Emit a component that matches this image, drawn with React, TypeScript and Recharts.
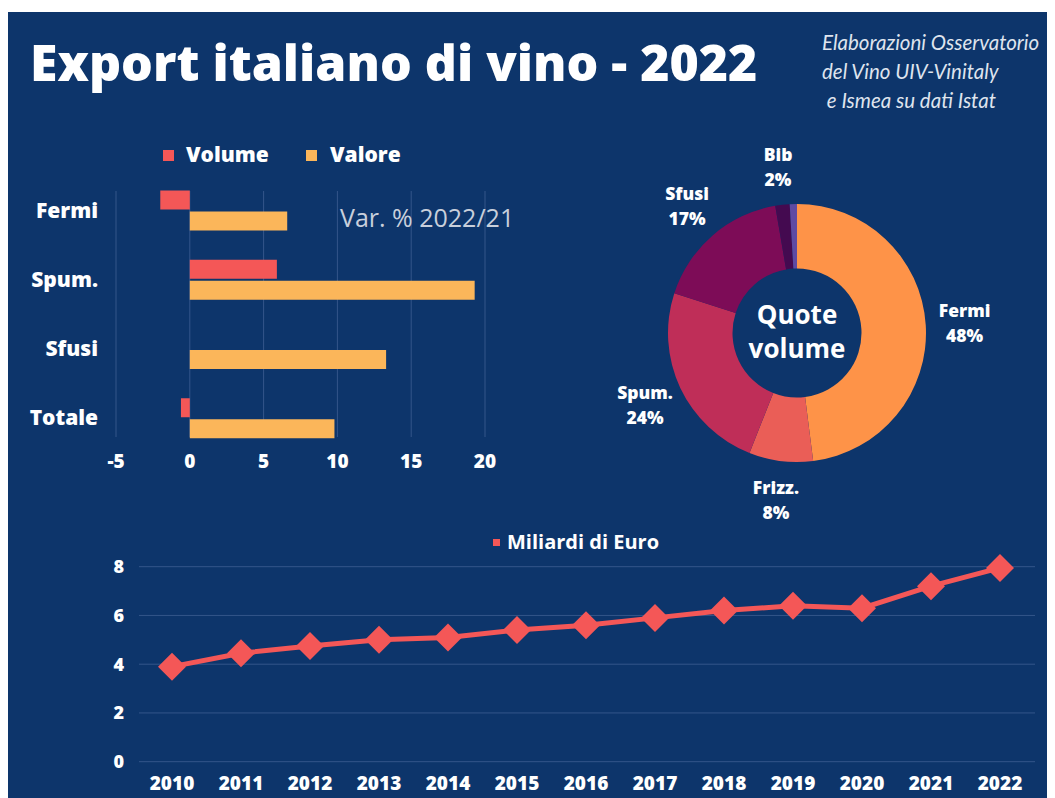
import React from 'react';
import {
  BarChart,
  Bar,
  XAxis,
  YAxis,
  CartesianGrid,
  PieChart,
  Pie,
  Cell,
  LineChart,
  Line,
} from 'recharts';

// --- data ---
const barCategories = ['Fermi', 'Spum.', 'Sfusi', 'Totale'];
const volumeVar = [-2.0, 5.9, 0, -0.6];
const valoreVar = [6.6, 19.3, 13.3, 9.8];
const barTicks = [-5, 0, 5, 10, 15, 20];

const pieNames = ['Fermi', 'Frizz.', 'Spum.', 'Sfusi', 'Bib', 'Altri'];
const pieValues = [48, 8, 24, 17.3, 1.8, 0.9];
const pieColors = ['#fe9348', '#ea5e57', '#bf2e58', '#7d0c57', '#440a50', '#5e4aa3'];

const years = ['2010', '2011', '2012', '2013', '2014', '2015', '2016', '2017', '2018', '2019', '2020', '2021', '2022'];
const exportValues = [3.9, 4.45, 4.75, 5.0, 5.1, 5.4, 5.6, 5.9, 6.2, 6.4, 6.3, 7.2, 7.95];
const lineTicks = [0, 2, 4, 6, 8];

const NAVY = '#0d356b';
const GRID = '#34568a';
const RED = '#f45757';
const ORANGE = '#fbb65a';
const FONT = '"Open Sans", sans-serif';

const barData = barCategories.map((name, i) => ({ name, volume: volumeVar[i], valore: valoreVar[i] }));
const pieData = pieNames.map((name, i) => ({ name, value: pieValues[i] }));
const lineData = years.map((year, i) => ({ year, value: exportValues[i] }));

const RAD = Math.PI / 180;

const PieLabel = (props: any) => {
  const { cx, cy, midAngle, percent, name } = props;
  if (percent < 0.015) return null;
  const r = 168;
  const x = cx + r * Math.cos(-midAngle * RAD);
  const y = cy + r * Math.sin(-midAngle * RAD);
  return (
    <text x={x} y={y} textAnchor="middle" fill="#fff" fontFamily={FONT} fontWeight={800} fontSize={17.5}>
      <tspan x={x} y={y - 12.5} dominantBaseline="central">{name}</tspan>
      <tspan x={x} y={y + 12.5} dominantBaseline="central">{`${Math.round(percent * 100)}%`}</tspan>
    </text>
  );
};

const Diamond = (props: any) => {
  const { cx, cy } = props;
  if (cx == null || cy == null) return null;
  const s = 14;
  return <polygon points={`${cx},${cy - s} ${cx + s},${cy} ${cx},${cy + s} ${cx - s},${cy}`} fill={RED} />;
};

const abs = (left: number, top: number): React.CSSProperties => ({ position: 'absolute', left, top });

export default function App() {
  return (
    <div style={{ paddingTop: 4 }}>
      <style>{'html,body{overflow:hidden}'}</style>
      <div style={{ position: 'relative', width: 1047, height: 786, background: NAVY, fontFamily: FONT, overflow: 'hidden' }}>
        {/* title */}
        <div style={{ ...abs(22, 25), color: '#fff', fontSize: 50, lineHeight: '50px', fontWeight: 800, whiteSpace: 'nowrap' }}>
          Export italiano di vino - 2022
        </div>
        <div
          style={{
            ...abs(814, 16),
            color: '#dfe4ee',
            fontFamily: 'Lato, sans-serif',
            fontStyle: 'italic',
            fontSize: 20.5,
            lineHeight: '29px',
            whiteSpace: 'pre',
          }}
        >
          {'Elaborazioni Osservatorio\ndel Vino UIV-Vinitaly\n e Ismea su dati Istat'}
        </div>

        {/* bar chart legend */}
        <div style={{ ...abs(155, 138), width: 11, height: 11, background: RED }} />
        <div style={{ ...abs(178, 143 - 11), color: '#fff', fontSize: 21, lineHeight: '21px', fontWeight: 800 }}>Volume</div>
        <div style={{ ...abs(298, 138), width: 11, height: 11, background: ORANGE }} />
        <div style={{ ...abs(322, 143 - 11), color: '#fff', fontSize: 21, lineHeight: '21px', fontWeight: 800 }}>Valore</div>

        <div style={abs(0, 0)}>
          <BarChart
            width={500}
            height={470}
            layout="vertical"
            data={barData}
            margin={{ top: 179, right: 23, bottom: 15, left: 0 }}
            barSize={19}
            barGap={2}
          >
            <CartesianGrid horizontal={false} stroke={GRID} />
            <XAxis
              type="number"
              domain={[-5, 20]}
              ticks={barTicks}
              height={30}
              axisLine={false}
              tickLine={false}
              tickSize={0}
              tickMargin={18}
              tick={{ fill: '#fff', fontSize: 19, fontWeight: 800, fontFamily: FONT }}
            />
            <YAxis
              type="category"
              dataKey="name"
              width={108}
              axisLine={false}
              tickLine={false}
              tickSize={0}
              tickMargin={18}
              padding={{ top: -15.5, bottom: -15.5 }}
              tick={{ fill: '#fff', fontSize: 21, fontWeight: 800, fontFamily: FONT }}
            />
            <Bar dataKey="volume" name="Volume" fill={RED} isAnimationActive={false} />
            <Bar dataKey="valore" name="Valore" fill={ORANGE} isAnimationActive={false} />
          </BarChart>
        </div>

        <div style={{ ...abs(332, 206 - 13), color: '#c8cfdb', fontSize: 25, lineHeight: '25px', fontWeight: 400, whiteSpace: 'nowrap' }}>
          Var. % 2022/21
        </div>

        {/* pie */}
        <div style={abs(569, 101)}>
          <PieChart width={440} height={440} margin={{ top: 0, right: 0, bottom: 0, left: 0 }}>
            <Pie
              data={pieData}
              dataKey="value"
              nameKey="name"
              cx={220}
              cy={220}
              innerRadius={64.5}
              outerRadius={129}
              startAngle={90}
              endAngle={-270}
              stroke="none"
              label={PieLabel}
              labelLine={false}
              isAnimationActive={false}
            >
              {pieData.map((d, i) => (
                <Cell key={d.name} fill={pieColors[i]} />
              ))}
            </Pie>
          </PieChart>
        </div>
        <div
          style={{
            ...abs(689, 285),
            width: 200,
            textAlign: 'center',
            color: '#fff',
            fontSize: 26,
            lineHeight: '34px',
            fontWeight: 700,
          }}
        >
          Quote
          <br />
          volume
        </div>

        {/* line chart legend */}
        <div style={{ ...abs(485, 527), width: 7, height: 7, background: RED }} />
        <div style={{ ...abs(499, 531 - 11), color: '#fff', fontSize: 20, lineHeight: '20px', fontWeight: 700, whiteSpace: 'nowrap' }}>
          Miliardi di Euro
        </div>

        <div style={abs(0, 500)}>
          <LineChart width={1047} height={286} data={lineData} margin={{ top: 54.7, right: 20, bottom: 6.3, left: 0 }}>
            <CartesianGrid vertical={false} stroke={GRID} />
            <XAxis
              dataKey="year"
              height={30}
              padding={{ left: 33, right: 35 }}
              axisLine={false}
              tickLine={false}
              tickSize={0}
              tickMargin={14.5}
              interval={0}
              tick={{ fill: '#fff', fontSize: 19, fontWeight: 800, fontFamily: FONT }}
            />
            <YAxis
              domain={[0, 8]}
              ticks={lineTicks}
              width={131}
              axisLine={false}
              tickLine={false}
              tickSize={0}
              tickMargin={15}
              tick={{ fill: '#fff', fontSize: 18, fontWeight: 800, fontFamily: FONT }}
            />
            <Line
              dataKey="value"
              name="Miliardi di Euro"
              stroke={RED}
              strokeWidth={5}
              dot={Diamond}
              activeDot={false}
              isAnimationActive={false}
            />
          </LineChart>
        </div>
      </div>
    </div>
  );
}
